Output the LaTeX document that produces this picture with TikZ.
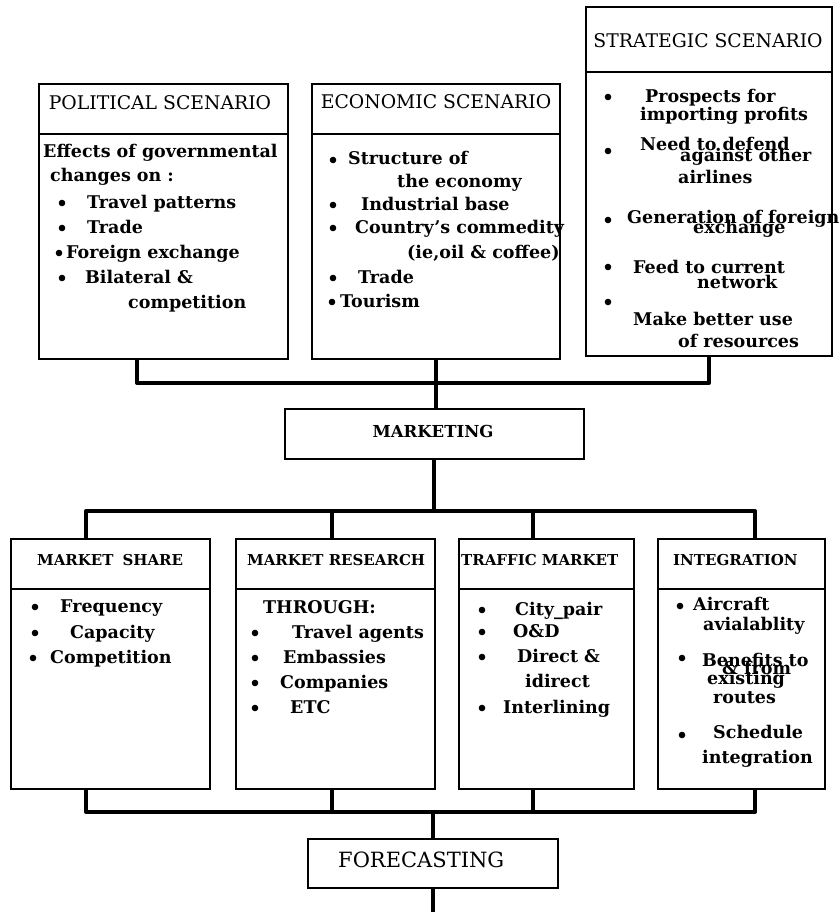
\documentclass[tikz,border=0pt]{standalone}
\usepackage{fontspec}
\setmainfont{DejaVu Serif}
\begin{document}
\begin{tikzpicture}[x=1pt,y=-1pt,
  frame/.style={draw, line width=1.8pt, rectangle, inner sep=0pt, anchor=north west},
  conn/.style={line width=4pt, line join=round},
  body/.style={anchor=base west, inner sep=0pt, font=\fontsize{17.5}{20}\selectfont\bfseries},
  head/.style={anchor=base, inner sep=0pt, font=\fontsize{18.8}{22}\selectfont},
  subhead/.style={anchor=base west, inner sep=0pt, font=\fontsize{15}{18}\selectfont\bfseries},
]
\newcommand\bul[1]{\fill (#1) circle (3.3pt);}
\useasboundingbox (0,0) rectangle (839,912);

% ---------- scenario boxes ----------
\node[frame, minimum width=249pt, minimum height=50pt]  (polH) at (38,83) {};
\node[frame, minimum width=249pt, minimum height=225pt] (polB) at (38,133) {};
\node[frame, minimum width=248pt, minimum height=50pt]  (ecoH) at (311,83) {};
\node[frame, minimum width=248pt, minimum height=225pt] (ecoB) at (311,133) {};
\node[frame, minimum width=246pt, minimum height=65pt]  (strH) at (585,6) {};
\node[frame, minimum width=246pt, minimum height=284pt] (strB) at (585,71) {};

\node[head] (polT) at (160,110) {POLITICAL SCENARIO};
\node[head] (ecoT) at (436,109) {ECONOMIC SCENARIO};
\node[head] (strT) at (708,48)  {STRATEGIC SCENARIO};

% political scenario
\node[body] (p1) at (43,158)  {Effects of governmental};
\node[body] (p2) at (50,182)  {changes on :};
\bul{62,203} \node[body] (p3) at (87,208) {Travel patterns};
\bul{62,228} \node[body] (p4) at (87,233) {Trade};
\bul{59,253} \node[body] (p5) at (66,258) {Foreign exchange};
\bul{62,278} \node[body] (p6) at (85,283) {Bilateral \&};
\node[body] (p7) at (128,308) {competition};

% economic scenario
\bul{333,160} \node[body] (e1) at (348,165) {Structure of};
\node[body] (e2) at (397,188) {the economy};
\bul{333,205} \node[body] (e3) at (361,210) {Industrial base};
\bul{333,228} \node[body] (e4) at (355,233) {Country's commedity};
\node[body] (e5) at (407,258) {(ie,oil \& coffee)};
\bul{333,278} \node[body] (e6) at (358,283) {Trade};
\bul{332,302} \node[body] (e7) at (340,307) {Tourism};

% strategic scenario
\bul{608,97}  \node[body] (s1) at (645,103) {Prospects for};
\node[body] (s2) at (640,121) {importing profits};
\bul{608,151} \node[body] (s3) at (640,151) {Need to defend};
\node[body] (s4) at (680,162) {against other};
\node[body] (s5) at (678,183) {airlines};
\bul{608,220} \node[body] (s6) at (627,223) {Generation of foreign};
\node[body] (s7) at (693,233) {exchange};
\bul{608,267} \node[body] (s8) at (633,273) {Feed to current};
\node[body] (s9) at (697,288) {network};
\bul{608,302}
\node[body] (s10) at (633,325) {Make better use};
\node[body] (s11) at (678,347) {of resources};

% ---------- marketing ----------
\node[frame, minimum width=299pt, minimum height=50pt] (mkt) at (284,408) {};
\node[anchor=base, inner sep=0pt, font=\fontsize{16.5}{18}\selectfont\bfseries] (mktT) at (433,437) {MARKETING};

% ---------- marketing components ----------
\node[frame, minimum width=199pt, minimum height=50pt]  (shH) at (10,538) {};
\node[frame, minimum width=199pt, minimum height=200pt] (shB) at (10,588) {};
\node[frame, minimum width=199pt, minimum height=50pt]  (rsH) at (235,538) {};
\node[frame, minimum width=199pt, minimum height=200pt] (rsB) at (235,588) {};
\node[frame, minimum width=175pt, minimum height=50pt]  (trH) at (458,538) {};
\node[frame, minimum width=175pt, minimum height=200pt] (trB) at (458,588) {};
\node[frame, minimum width=167pt, minimum height=50pt]  (inH) at (657,538) {};
\node[frame, minimum width=167pt, minimum height=200pt] (inB) at (657,588) {};

\node[subhead] (shT) at (37,565)  {MARKET\hspace{0.6em}SHARE};
\node[subhead] (rsT) at (247,565) {MARKET RESEARCH};
\node[subhead] (trT) at (461,565) {TRAFFIC MARKET};
\node[subhead] (inT) at (673,565) {INTEGRATION};

% market share
\bul{35,607} \node[body] (sh1) at (60,612) {Frequency};
\bul{35,633} \node[body] (sh2) at (70,638) {Capacity};
\bul{33,658} \node[body] (sh3) at (50,663) {Competition};

% market research
\node[body] (rs1) at (263,613) {THROUGH:};
\bul{255,633} \node[body] (rs2) at (292,638) {Travel agents};
\bul{255,658} \node[body] (rs3) at (283,663) {Embassies};
\bul{255,683} \node[body] (rs4) at (280,688) {Companies};
\bul{255,708} \node[body] (rs5) at (290,713) {ETC};

% traffic market
\bul{482,610} \node[body] (tr1) at (515,615) {City\_pair};
\bul{482,632} \node[body] (tr2) at (513,637) {O\&D};
\bul{482,657} \node[body] (tr3) at (517,662) {Direct \&};
\node[body] (tr4) at (525,687) {idirect};
\bul{482,708} \node[body] (tr5) at (503,713) {Interlining};

% integration
\bul{680,606} \node[body] (in1) at (693,610) {Aircraft};
\node[body] (in2) at (703,630) {avialablity};
\bul{682,658} \node[body] (in3) at (702,666) {Benefits to};
\node[body] (in4) at (722,674) {\& from};
\node[body] (in5) at (707,684) {existing};
\node[body] (in6) at (713,703) {routes};
\bul{682,735} \node[body] (in7) at (713,738) {Schedule};
\node[body] (in8) at (702,763) {integration};

% ---------- forecasting ----------
\node[frame, minimum width=250pt, minimum height=49pt] (fc) at (307,838) {};
\node[anchor=base west, inner sep=0pt, font=\fontsize{21}{24}\selectfont] (fcT) at (338,867) {FORECASTING};

% ---------- connectors ----------
\coordinate (t1) at (137,383);
\draw[conn] (polB.south -| t1) |- (strB.south |- t1) -- (strB.south);
\draw[conn] (ecoB.south) -- (ecoB.south |- mkt.north);

\coordinate (b1) at (86,511);  \coordinate (b2) at (332,511);
\coordinate (b3) at (533,511); \coordinate (b4) at (755,511);
\draw[conn] (shH.north -| b1) |- (b4) -- (inH.north -| b4);
\draw[conn] (rsH.north -| b2) -- (b2);
\draw[conn] (trH.north -| b3) -- (b3);
\draw[conn] (mkt.south) -- (mkt.south |- b1);

\coordinate (c1) at (86,812);  \coordinate (c2) at (332,812);
\coordinate (c3) at (533,812); \coordinate (c4) at (755,812);
\draw[conn] (shB.south -| c1) |- (c4) -- (inB.south -| c4);
\draw[conn] (rsB.south -| c2) -- (c2);
\draw[conn] (trB.south -| c3) -- (c3);
\draw[conn] (fc.north) -- (fc.north |- c1);
\coordinate (out) at (432,912);
\draw[conn] (fc.south) -- (fc.south |- out);
\end{tikzpicture}
\end{document}
